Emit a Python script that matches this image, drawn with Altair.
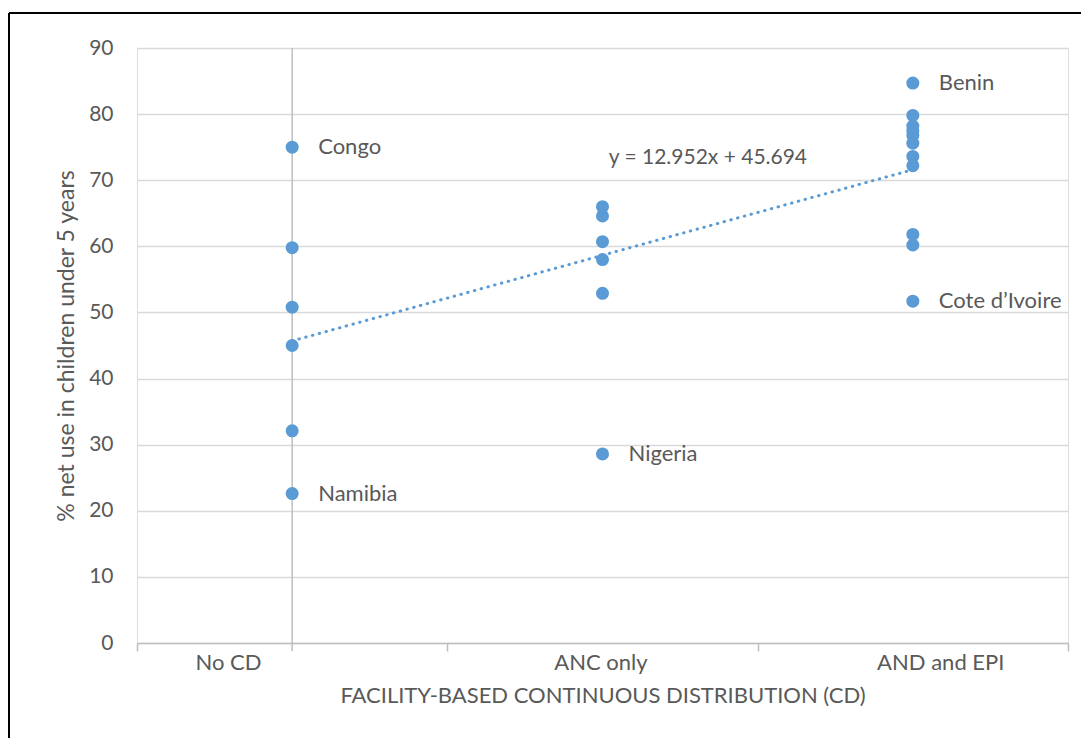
import altair as alt
import pandas as pd

# ---- data ----
categories = ["No CD", "ANC only", "AND and EPI"]

nocd_vals = [75.0, 59.8, 50.8, 45.0, 32.1, 22.6]
anc_vals = [66.0, 64.6, 60.7, 58.0, 52.9, 28.6]
epi_vals = [84.7, 79.8, 78.2, 77.5, 76.8, 75.6, 73.6, 72.2, 61.8, 60.2, 51.7]

label_names = ["Congo", "Namibia", "Nigeria", "Benin", "Cote d\u2019Ivoire"]
label_cat = [0, 0, 1, 2, 2]
label_vals = [75.0, 22.6, 28.6, 84.7, 51.7]

trend_slope = 12.952
trend_intercept = 45.694
trend_x = [0, 2]
trend_text = "y = 12.952x + 45.694"

y_ticks = [0, 10, 20, 30, 40, 50, 60, 70, 80, 90]
x_bounds = [-0.5, 0.5, 1.5, 2.5]

# layout (label placement along the category axis, in axis units)
cat_label_pos = [-0.205, -0.005, 0.09]

# ---- tables ----
pts = pd.DataFrame(
    {"x": [0] * len(nocd_vals) + [1] * len(anc_vals) + [2] * len(epi_vals),
     "y": nocd_vals + anc_vals + epi_vals}
)
lbl = pd.DataFrame({"x": label_cat, "y": label_vals, "t": label_names})
trend = pd.DataFrame({"x": trend_x, "y": [trend_intercept + trend_slope * v for v in trend_x]})
cats = pd.DataFrame({"x": [i + o for i, o in zip(range(3), cat_label_pos)], "t": categories})
eq = pd.DataFrame({"x": [1.02], "y": [73.4], "t": [trend_text]})
vline = pd.DataFrame({"x": [0], "y": [0], "y2": [90]})

FONT = "Lato"
TXT = "#595959"
BLUE = "#5B9BD5"

xscale = alt.Scale(domain=[-0.5, 2.5], nice=False, zero=False)
yscale = alt.Scale(domain=[0, 90], nice=False)

xaxis = alt.Axis(values=x_bounds, labels=False, grid=False, ticks=True, tickSize=8,
                 tickColor="#BFBFBF", domainColor="#BFBFBF", domainWidth=1.5, tickWidth=1.5,
                 title="FACILITY-BASED CONTINUOUS DISTRIBUTION (CD)", titleFont=FONT,
                 titleFontSize=22, titleFontWeight="normal", titleColor=TXT, titlePadding=34)
yaxis = alt.Axis(values=y_ticks, grid=True, gridColor="#D9D9D9", gridWidth=1.5, domain=False,
                 ticks=False, labelFont=FONT, labelFontSize=21, labelColor=TXT, labelPadding=24,
                 title="% net use in children under 5 years", titleFont=FONT, titleFontSize=23,
                 titleFontWeight="normal", titleColor=TXT, titlePadding=10)

base_axes = alt.Chart(pts).mark_point(opacity=0).encode(
    x=alt.X("x:Q", scale=xscale, axis=xaxis),
    y=alt.Y("y:Q", scale=yscale, axis=yaxis),
)

vrule = alt.Chart(vline).mark_rule(color="#BFBFBF", strokeWidth=1.5).encode(
    x=alt.X("x:Q", scale=xscale), y=alt.Y("y:Q", scale=yscale), y2="y2:Q"
)
vtick = alt.Chart(vline).mark_rule(color="#BFBFBF", strokeWidth=1.5).encode(
    x=alt.X("x:Q", scale=xscale), y=alt.value(595), y2=alt.value(603)
)

points = alt.Chart(pts).mark_circle(size=170, color=BLUE, opacity=1).encode(
    x=alt.X("x:Q", scale=xscale), y=alt.Y("y:Q", scale=yscale)
)

trendline = alt.Chart(trend).mark_line(
    color=BLUE, strokeWidth=3, strokeDash=[0.5, 6.5], strokeCap="round"
).encode(x=alt.X("x:Q", scale=xscale), y=alt.Y("y:Q", scale=yscale))

labels = alt.Chart(lbl).mark_text(
    align="left", baseline="middle", dx=26, font=FONT, fontSize=22, color=TXT
).encode(x=alt.X("x:Q", scale=xscale), y=alt.Y("y:Q", scale=yscale), text="t:N")

eqtext = alt.Chart(eq).mark_text(
    align="left", baseline="middle", font=FONT, fontSize=21, color=TXT
).encode(x=alt.X("x:Q", scale=xscale), y=alt.Y("y:Q", scale=yscale), text="t:N")

cattext = alt.Chart(cats).mark_text(
    align="center", baseline="middle", font=FONT, fontSize=22, color=TXT
).encode(x=alt.X("x:Q", scale=xscale), y=alt.value(615), text="t:N")

border_top = alt.Chart(vline).mark_rule(color="black", strokeWidth=2, clip=False).encode(
    x=alt.value(-128), x2=alt.value(960), y=alt.value(-35)
)
border_left = alt.Chart(vline).mark_rule(color="black", strokeWidth=2, clip=False).encode(
    x=alt.value(-128), y=alt.value(-35), y2=alt.value(700)
)

chart = alt.layer(
    base_axes, vrule, vtick, trendline, points, labels, eqtext, cattext, border_top, border_left
).properties(
    width=931, height=595,
    autosize=alt.AutoSizeParams(type="none"),
    padding={"left": 129, "top": 40, "right": 13, "bottom": 95},
).configure_view(stroke=None).configure(background="white")

chart.save("out.html", embed_options={"renderer": "svg", "actions": False})
